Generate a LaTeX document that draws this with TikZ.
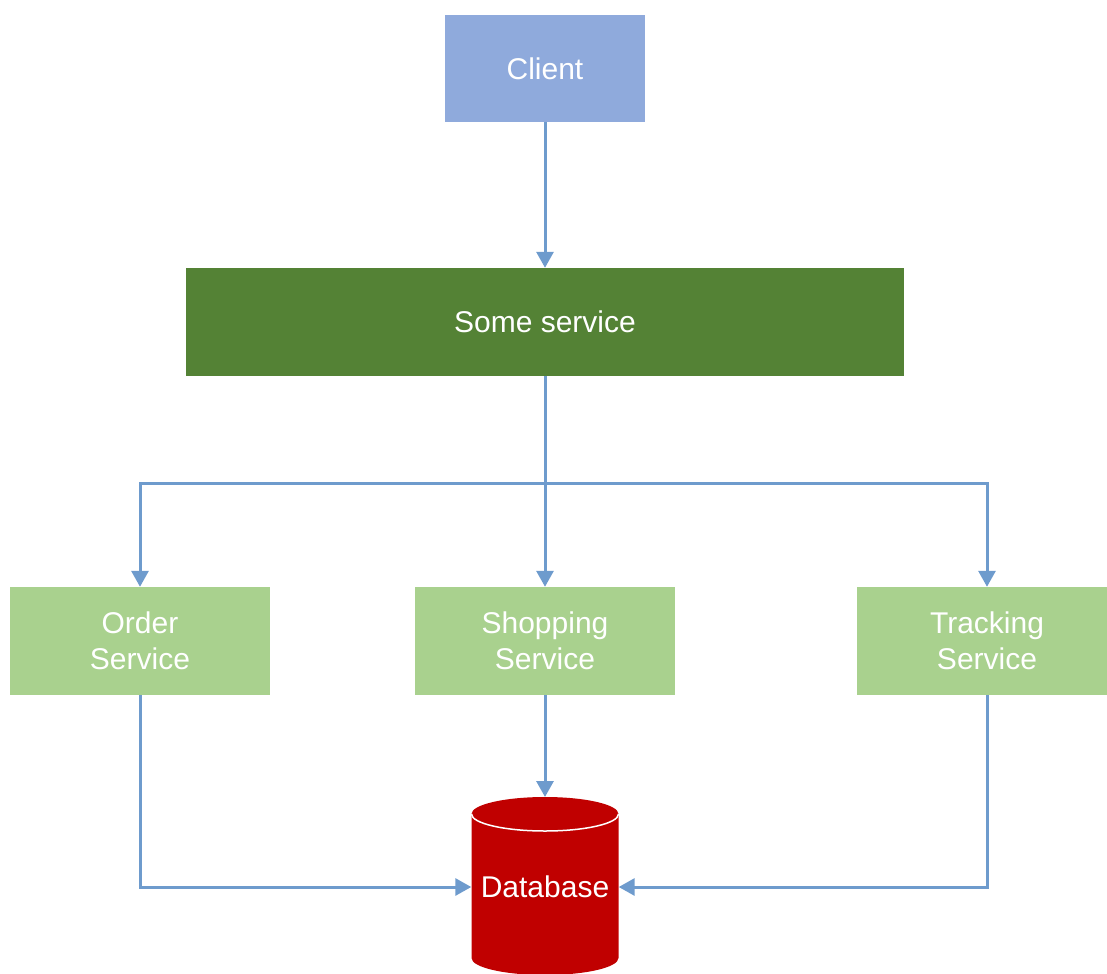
\documentclass[tikz,border=0pt]{standalone}
\usepackage{fontspec}
\setmainfont{Liberation Sans}
\usetikzlibrary{arrows.meta}
\definecolor{clientc}{RGB}{143,170,220}
\definecolor{somec}{RGB}{84,130,53}
\definecolor{svc}{RGB}{169,209,142}
\definecolor{dbc}{RGB}{192,0,0}
\definecolor{arr}{RGB}{110,155,205}
\begin{document}
\begin{tikzpicture}[x=1bp,y=-1bp,
 box/.style={fill=#1, draw=none, text=white, align=center, font=\fontsize{30bp}{36bp}\selectfont, inner sep=0pt},
 conn/.style={draw=arr, line width=3bp, -{Triangle[length=16bp,width=17bp]}},
 plain/.style={draw=arr, line width=3bp}]
\clip (0,0) rectangle (1107,974);
\useasboundingbox (0,0) rectangle (1107,974);
\node[box=clientc, minimum width=200bp, minimum height=107bp] (client) at (545,68.5) {Client};
\node[box=somec, minimum width=718bp, minimum height=108bp] (some) at (545,322) {Some service};
\node[box=svc, minimum width=260bp, minimum height=108bp] (order) at (140,641) {Order\\Service};
\node[box=svc, minimum width=260bp, minimum height=108bp] (shop) at (545,641) {Shopping\\Service};
\node[box=svc, minimum width=260bp, minimum height=108bp] (track) at (987,641) {Tracking\\Service};
% database cylinder
\fill[dbc] (471.5,814) -- (471.5,958) arc[start angle=180,end angle=0,x radius=73.5,y radius=17] -- (618.5,814) arc[start angle=0,end angle=-180,x radius=73.5,y radius=17] -- cycle;
\draw[white, line width=1.5bp] (471.5,814) arc[start angle=180,end angle=0,x radius=73.5,y radius=17];
\node[text=white, font=\fontsize{30bp}{36bp}\selectfont, inner sep=0pt, minimum width=147bp, minimum height=30bp] (db) at (545,887) {Database};
\coordinate (dbtop) at (545,797);
\coordinate (split) at (545,483);
% connectors
\draw[conn] (client.south) -- (some.north);
\draw[plain] (some.south) -- (split);
\draw[conn] (split) -| (order.north);
\draw[conn] (split) -- (shop.north);
\draw[conn] (split) -| (track.north);
\draw[conn] (order.south) |- (db.west);
\draw[conn] (shop.south) -- (dbtop);
\draw[conn] (track.south) |- (db.east);
\end{tikzpicture}
\end{document}
